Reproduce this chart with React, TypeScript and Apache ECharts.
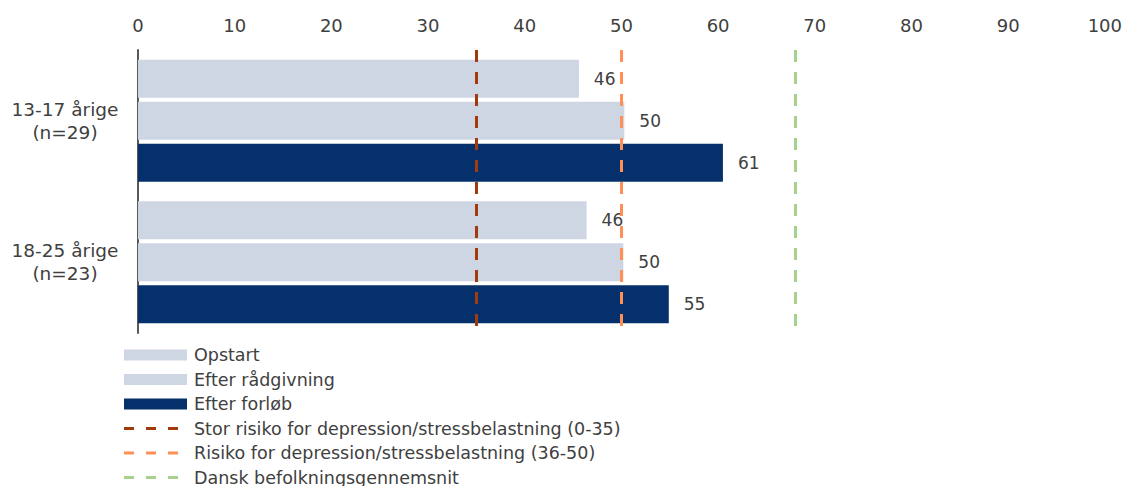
import React, { useEffect, useRef } from "react";
import * as echarts from "echarts";

// Age groups shown on the category axis
const categories = ["13-17 årige\n(n=29)", "18-25 årige\n(n=23)"];

// Scores per phase
const opstart = [45.6, 46.4];
const efterRaadgivning = [50.3, 50.2];
const efterForloeb = [60.5, 54.9];

// Reference thresholds drawn as dashed vertical lines
const storRisiko = 35;
const risiko = 50;
const befolkningsgennemsnit = 68;

// Value axis ticks
const axisMin = 0;
const axisMax = 100;
const axisStep = 10;

const TEXT = "#404040";
const FONT = "DejaVu Sans";
const LIGHT = "#cfd6e3";
const DARK = "#06306b";
const RED = "#a23a0e";
const ORANGE = "#ff8f55";
const GREEN = "#a9d18e";

const dashIcon =
  "path://M0,4h10v3h-10zM22,4h10v3h-10zM44,4h10v3h-10zM0,0M63,11";

function barSeries(name: string, data: number[], color: string) {
  return {
    name,
    type: "bar",
    data,
    barWidth: 38,
    barGap: "10.5%",
    itemStyle: { color },
    label: {
      show: true,
      position: "right",
      distance: 15,
      color: TEXT,
      fontFamily: FONT,
      fontSize: 17,
      formatter: (p: any) => String(Math.round(p.value)),
    },
  };
}

function thresholdSeries(name: string, value: number, color: string) {
  return {
    name,
    type: "line",
    data: [],
    color,
    symbol: "none",
    lineStyle: { color, width: 3, type: [12, 10] },
    markLine: {
      silent: true,
      symbol: "none",
      label: { show: false },
      lineStyle: { color, width: 3, type: [12, 10] },
      data: [{ xAxis: value }],
    },
  };
}

export default function App() {
  const ref = useRef<HTMLDivElement>(null);

  useEffect(() => {
    document.body.style.margin = "0";
    if (!ref.current) return;
    const chart = echarts.init(ref.current, null, { renderer: "svg" });
    chart.setOption({
      animation: false,
      textStyle: { fontFamily: FONT },
      grid: { left: 138, right: 19, top: 50, bottom: 153 },
      xAxis: {
        type: "value",
        position: "top",
        min: axisMin,
        max: axisMax,
        interval: axisStep,
        axisLine: { show: false },
        axisTick: { show: false },
        splitLine: { show: false },
        axisLabel: { color: TEXT, fontSize: 18, fontFamily: FONT, margin: 16 },
      },
      yAxis: {
        type: "category",
        data: categories,
        inverse: true,
        axisLine: { show: true, lineStyle: { color: "#595959", width: 2 } },
        axisTick: { show: false },
        axisLabel: {
          color: TEXT,
          fontSize: 18.5,
          fontFamily: FONT,
          align: "center",
          lineHeight: 23,
          margin: 73,
        },
      },
      legend: {
        orient: "vertical",
        left: 124,
        top: 345,
        height: 200,
        padding: 0,
        itemWidth: 63,
        itemHeight: 11,
        itemGap: 4.5,
        textStyle: { color: TEXT, fontSize: 17.5, fontFamily: FONT, lineHeight: 20, padding: [0, 0, 0, 2] },
        data: [
          { name: "Opstart", icon: "rect" },
          { name: "Efter rådgivning", icon: "rect" },
          { name: "Efter forløb", icon: "rect" },
          { name: "Stor risiko for depression/stressbelastning (0-35)", icon: dashIcon, itemStyle: { borderWidth: 0 } },
          { name: "Risiko for depression/stressbelastning (36-50)", icon: dashIcon, itemStyle: { borderWidth: 0 } },
          { name: "Dansk befolkningsgennemsnit", icon: dashIcon, itemStyle: { borderWidth: 0 } },
        ],
      },
      series: [
        barSeries("Opstart", opstart, LIGHT),
        barSeries("Efter rådgivning", efterRaadgivning, LIGHT),
        barSeries("Efter forløb", efterForloeb, DARK),
        thresholdSeries("Stor risiko for depression/stressbelastning (0-35)", storRisiko, RED),
        thresholdSeries("Risiko for depression/stressbelastning (36-50)", risiko, ORANGE),
        thresholdSeries("Dansk befolkningsgennemsnit", befolkningsgennemsnit, GREEN),
      ],
    });
    return () => chart.dispose();
  }, []);

  return <div ref={ref} style={{ width: 1125, height: 486 }} />;
}
